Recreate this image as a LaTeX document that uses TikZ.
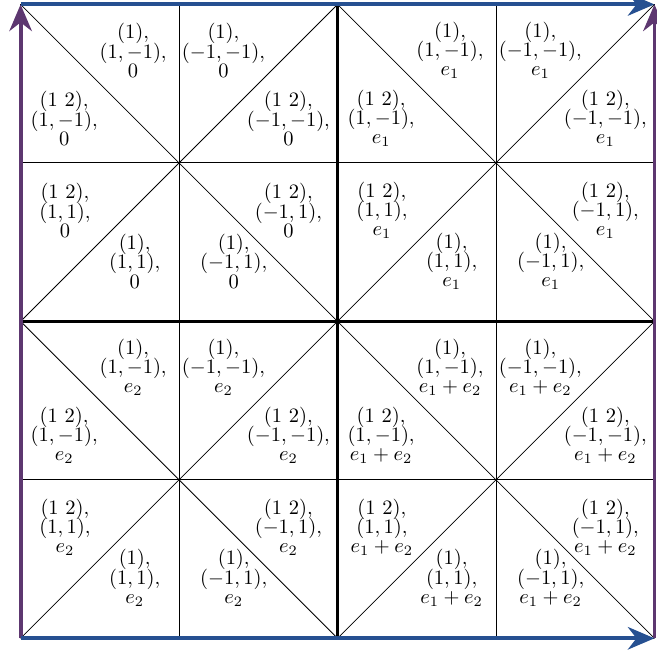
\documentclass[tikz,border=0pt]{standalone}
\usepackage{amsmath,amssymb}
\usepackage{xcolor}
\usepackage{tikz}
\usetikzlibrary{arrows.meta,positioning,calc}

\definecolor{edgeblue}{RGB}{38,80,145}
\definecolor{edgepurple}{RGB}{93,55,112}

\begin{document}
\begin{tikzpicture}[
    x=2.72cm, y=2.72cm,
    cell/.style={line width=0.4pt, black},
    seam/.style={very thick, black},
    fold/.style={line width=0.4pt, black},
    lbl/.style={align=center, inner sep=0pt, font={\fontsize{10}{9.4}\selectfont\lineskiplimit=-5pt\relax}},
    horiz/.style={-{Stealth[length=13pt,width=11pt]}, line width=1.9pt, edgeblue},
    vert/.style={-{Stealth[length=13pt,width=11pt]}, line width=1.9pt, edgepurple},
]
\useasboundingbox (-0.13,-0.107) rectangle (4.016,4.028);
\coordinate (sw) at (0,0);
\coordinate (se) at (4,0);
\coordinate (nw) at (0,4);
\coordinate (ne) at (4,4);

% grid and the two diagonals of each block
\draw[cell] (sw) grid[step={(1,1)}] (ne);
\foreach \bx/\by in {0/0,2/0,0/2,2/2}{
  \draw[fold] (\bx,\by) -- ++(2,2);
  \draw[fold] (\bx,\by+2) -- ++(2,-2);
}
\draw[seam] (2,0) -- (2,4);
\draw[seam] (0,2) -- (4,2);

% one label per triangle
\foreach \bx/\by/\shift/\nm in {0/2/0/a, 2/2/e_1/b, 0/0/e_2/c, 2/0/e_1+e_2/d}{
  \coordinate (c\nm) at (\bx+1,\by+1);
  \node[lbl] (\nm-tl) at ($(c\nm)+(-0.29,0.71)$) {$(1),$\\$(1,-1),$\\$\shift$};
  \node[lbl] (\nm-tr) at ($(c\nm)+(0.28,0.71)$) {$(1),$\\$(-1,-1),$\\$\shift$};
  \node[lbl] (\nm-lu) at ($(c\nm)+(-0.725,0.28)$) {$(1\ 2),$\\$(1,-1),$\\$\shift$};
  \node[lbl] (\nm-ru) at ($(c\nm)+(0.69,0.28)$) {$(1\ 2),$\\$(-1,-1),$\\$\shift$};
  \node[lbl] (\nm-ld) at ($(c\nm)+(-0.72,-0.30)$) {$(1\ 2),$\\$(1,1),$\\$\shift$};
  \node[lbl] (\nm-rd) at ($(c\nm)+(0.69,-0.30)$) {$(1\ 2),$\\$(-1,1),$\\$\shift$};
  \node[lbl] (\nm-bl) at ($(c\nm)+(-0.28,-0.62)$) {$(1),$\\$(1,1),$\\$\shift$};
  \node[lbl] (\nm-br) at ($(c\nm)+(0.345,-0.62)$) {$(1),$\\$(-1,1),$\\$\shift$};
}

% boundary identifications
\draw[vert] (sw) -- (nw);
\draw[vert] (se) -- (ne);
\draw[horiz] (nw) -- (ne);
\draw[horiz] (sw) -- (se);
\end{tikzpicture}
\end{document}
